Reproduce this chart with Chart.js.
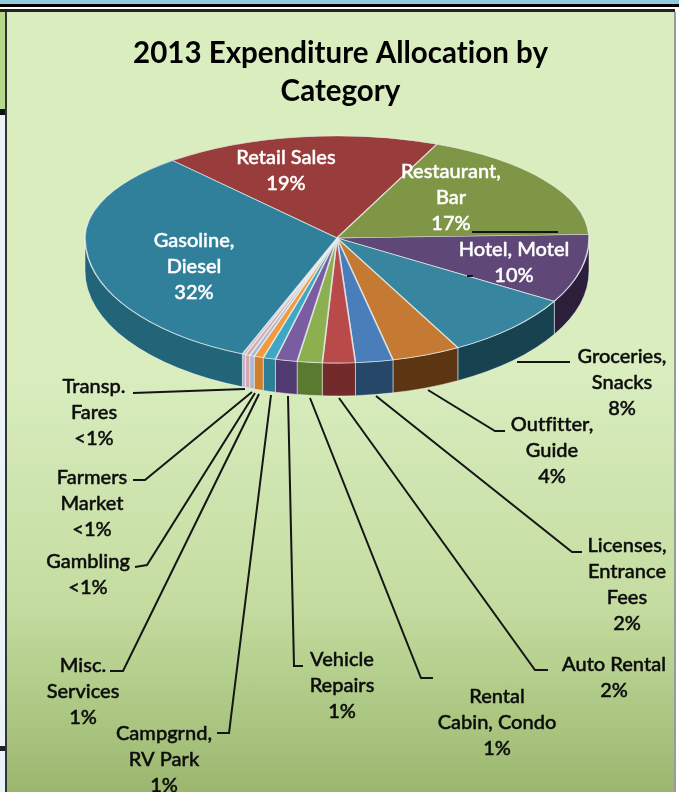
<!DOCTYPE html>
<html>
<head>
<meta charset="utf-8">
<title>2013 Expenditure Allocation by Category</title>
<script src="https://cdn.jsdelivr.net/npm/chart.js@4"></script>
<style>
  html, body { margin: 0; padding: 0; background: #fff; overflow: hidden; }
  #page { position: relative; width: 679px; height: 792px; overflow: hidden; }
  #page div { position: absolute; }
  #topStrip { left: 0; top: 0; width: 679px; height: 4px; background: #8fcbdc; }
  #topLine1 { left: 0; top: 4px; width: 679px; height: 3px; background: #000; }
  #topLine2 { left: 0; top: 9px; width: 675px; height: 3px; background: #222; }
  #leftGreen { left: 0; top: 12px; width: 5px; height: 97px; background: #b5d98a; }
  #leftLine { left: 0; top: 109px; width: 6px; height: 6px; background: #111; }
  #leftWhite { left: 0; top: 115px; width: 5px; height: 677px; background: #eaf3f8; }
  #leftEdge { left: 5px; top: 12px; width: 2px; height: 780px; background: #333; }
  #leftLine2 { left: 0; top: 746px; width: 6px; height: 5px; background: #222; }
  #panel { left: 7px; top: 12px; width: 667px; height: 780px;
    background: linear-gradient(180deg, #d9edbf 0%, #d9edbf 46%, #c4dca0 76%, #a8c47e 92%, #9ab66f 100%); }
  #rightEdge { left: 674px; top: 12px; width: 2px; height: 780px; background: #9a9a9a; }
  canvas { position: absolute; left: 0; top: 0; }
</style>
</head>
<body>
<div id="page">
  <div id="topStrip"></div>
  <div id="topLine1"></div>
  <div id="topLine2"></div>
  <div id="leftGreen"></div>
  <div id="leftLine"></div>
  <div id="leftWhite"></div>
  <div id="leftLine2"></div>
  <div id="leftEdge"></div>
  <div id="panel"></div>
  <div id="rightEdge"></div>
  <canvas id="pie" width="679" height="792"></canvas>
</div>
<script>
// Shares (clockwise from Retail Sales)
const categories = ["Retail Sales", "Restaurant, Bar", "Hotel, Motel", "Groceries, Snacks", "Outfitter, Guide",
  "Licenses, Entrance Fees", "Auto Rental", "Rental Cabin, Condo", "Vehicle Repairs", "Campgrnd, RV Park",
  "Misc. Services", "Gambling", "Farmers Market", "Transp. Fares", "Gasoline, Diesel"];
const shares = [17.8, 18, 9, 8.6, 4.4, 2.4, 2.1, 1.6, 1.4, 0.8, 0.6, 0.3, 0.3, 0.2, 32.6];
const topColors = ["#983d3b", "#7f9646", "#5f4778", "#37859e", "#c47a33", "#4a7ebb", "#b84a4a", "#8cb050",
  "#7a5da0", "#3fa7c4", "#f39a3f", "#a5b8d8", "#d8a8a8", "#c0b0d8", "#31809b"];
const sideColors = ["#6e2b2a", "#5a6c30", "#2c1f3c", "#17424f", "#5c3512", "#264768", "#722b2a", "#5a7a2f",
  "#513a70", "#2d7f96", "#d07f2c", "#a5b8d8", "#d8a8a8", "#c0b0d8", "#226579"];

// Label text and where each block starts
const insideLabels = [
  { lines: ["Retail Sales", "19%"], x: 286, y: 164 },
  { lines: ["Restaurant,", "Bar", "17%"], x: 451, y: 178 },
  { lines: ["Hotel, Motel", "10%"], x: 514, y: 256 },
  { lines: ["Gasoline,", "Diesel", "32%"], x: 194, y: 247 },
];
const outsideLabels = [
  { lines: ["Groceries,", "Snacks", "8%"], x: 622, y: 363 },
  { lines: ["Outfitter,", "Guide", "4%"], x: 552, y: 431 },
  { lines: ["Licenses,", "Entrance", "Fees", "2%"], x: 627, y: 552 },
  { lines: ["Auto Rental", "2%"], x: 614, y: 671 },
  { lines: ["Rental", "Cabin, Condo", "1%"], x: 497, y: 703 },
  { lines: ["Vehicle", "Repairs", "1%"], x: 342, y: 666 },
  { lines: ["Campgrnd,", "RV Park", "1%"], x: 164, y: 740 },
  { lines: ["Misc.", "Services", "1%"], x: 83, y: 672 },
  { lines: ["Gambling", "<1%"], x: 88, y: 568 },
  { lines: ["Farmers", "Market", "<1%"], x: 92, y: 484 },
  { lines: ["Transp.", "Fares", "<1%"], x: 94, y: 393 },
];
const leaderLines = [
  [[517, 362], [570, 362]],
  [[428, 390], [495, 431], [505, 431]],
  [[376, 396], [572, 552], [582, 552]],
  [[339, 398], [535, 670], [548, 670]],
  [[310, 398], [421, 678], [433, 678]],
  [[288, 396], [294, 666], [303, 666]],
  [[271, 395], [229, 733], [217, 733]],
  [[259, 394], [123, 671], [110, 671]],
  [[255, 393], [147, 565], [135, 567]],
  [[252, 392], [145, 480], [133, 480]],
  [[245, 389], [133, 393]],
  [[472, 232], [558, 232]],
  [[467, 276], [473, 276]],
];

// Where the flat pie is laid down: apex, squash above and below it, rim depth
const apexX = 337, apexY = 238, squashBack = 0.405, squashFront = 0.496, rimDepth = 33;
const bodyFont = "Lato, 'Open Sans', sans-serif";

const tiltedPie = {
  id: "tiltedPie",
  beforeDraw(chart) {
    // keeps Lato from joining "fi" and "ti"; has to be set after the canvas is sized
    chart.ctx.letterSpacing = "0.01px";
  },
  beforeDatasetDraw(chart, args) {
    const ctx = chart.ctx;
    const arcs = chart.getDatasetMeta(args.index).data;

    // rim first, only the front half shows
    arcs.forEach((arc, i) => {
      const { startAngle, endAngle, outerRadius } = arc.getProps(["startAngle", "endAngle", "outerRadius"], true);
      const from = Math.max(startAngle, 0), to = Math.min(endAngle, Math.PI);
      if (to <= from) return;
      const ry = outerRadius * squashFront;
      ctx.beginPath();
      ctx.ellipse(apexX, apexY, outerRadius, ry, 0, from, to);
      ctx.ellipse(apexX, apexY + rimDepth, outerRadius, ry, 0, to, from, true);
      ctx.closePath();
      ctx.fillStyle = sideColors[i];
      ctx.fill();
      ctx.strokeStyle = "rgba(255,255,255,0.45)";
      ctx.lineWidth = 1;
      ctx.stroke();
    });

    // top face, back half and front half squashed differently
    [[0, apexY, squashBack], [apexY, 792 - apexY, squashFront]].forEach(([clipY, clipH, squash]) => {
      ctx.save();
      ctx.beginPath();
      ctx.rect(0, clipY, 679, clipH);
      ctx.clip();
      ctx.translate(apexX, apexY);
      ctx.scale(1, squash);
      ctx.translate(-arcs[0].x, -arcs[0].y);
      arcs.forEach((arc) => arc.draw(ctx));
      ctx.restore();
    });
    return false;
  },
  afterDraw(chart) {
    const ctx = chart.ctx;
    ctx.save();
    ctx.strokeStyle = "#151515";
    ctx.lineWidth = 2;
    leaderLines.forEach((pts) => {
      ctx.beginPath();
      pts.forEach(([x, y], i) => (i ? ctx.lineTo(x, y) : ctx.moveTo(x, y)));
      ctx.stroke();
    });
    ctx.textAlign = "center";
    ctx.textBaseline = "middle";
    ctx.font = "500 20px " + bodyFont;
    ctx.lineWidth = 0.45;
    const write = (label, color) => {
      ctx.fillStyle = color;
      ctx.strokeStyle = color;
      label.lines.forEach((line, i) => {
        ctx.fillText(line, label.x, label.y - 6 + i * 25.8);
        ctx.strokeText(line, label.x, label.y - 6 + i * 25.8);
      });
    };
    insideLabels.forEach((l) => write(l, "#fff"));
    outsideLabels.forEach((l) => write(l, "#0c0c0c"));
    ctx.restore();
  },
};

new Chart(document.getElementById("pie").getContext("2d"), {
  type: "pie",
  data: {
    labels: categories,
    datasets: [
      {
        data: shares,
        backgroundColor: topColors,
        borderColor: "rgba(235,240,240,0.75)",
        borderWidth: 1.6,
      },
    ],
  },
  options: {
    responsive: false,
    animation: false,
    rotation: -40.7,
    radius: 252,
    layout: { padding: { top: 34, bottom: 24, left: 2 } },
    plugins: {
      legend: { display: false },
      tooltip: { enabled: false },
      title: {
        display: true,
        text: ["2013 Expenditure Allocation by", "Category"],
        color: "#000",
        font: { family: bodyFont, size: 29.5, weight: "bold", lineHeight: 1.3 },
        padding: { top: 0, bottom: 10 },
      },
    },
  },
  plugins: [tiltedPie],
});
</script>
</body>
</html>
